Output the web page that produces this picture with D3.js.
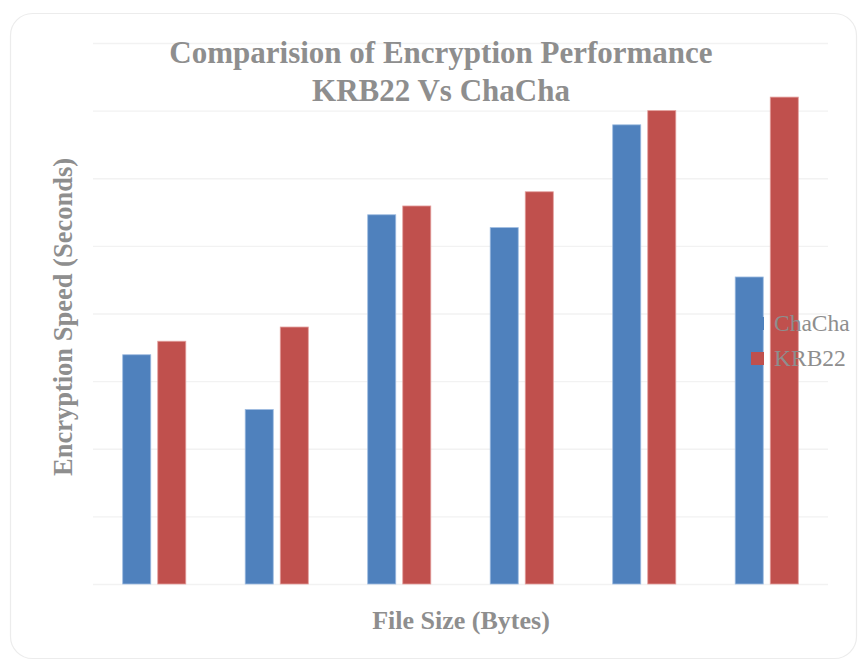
<!DOCTYPE html>
<html>
<head>
<meta charset="utf-8">
<script src="https://cdn.jsdelivr.net/npm/d3@7"></script>
<style>
    body { margin: 0; background: #ffffff; }
    text { font-family: "Liberation Serif", "Times New Roman", serif; }
</style>
</head>
<body>
<svg id="chart" width="860" height="661"></svg>
<script>
// Data (units of one gridline step)
var fileSizes = ["1", "2", "3", "4", "5", "6"];
var seriesNames = ["ChaCha", "KRB22"];
var chachaValues = [3.39, 2.58, 5.46, 5.27, 6.79, 4.54];
var krb22Values = [3.59, 3.80, 5.59, 5.80, 7.00, 7.20];
var gridTicks = [0, 1, 2, 3, 4, 5, 6, 7, 8];
var seriesColors = ["#4f81bd", "#c0504d"];

var svg = d3.select("#chart");

// card outline
svg.append("rect")
    .attr("x", 10.5).attr("y", 13.5)
    .attr("width", 846).attr("height", 645)
    .attr("rx", 22).attr("ry", 22)
    .attr("fill", "#ffffff")
    .attr("stroke", "#ececec")
    .attr("stroke-width", 1.2);

var margin = { left: 93, right: 32, top: 43, bottom: 77 };
var width = 860 - margin.left - margin.right;
var height = 661 - margin.top - margin.bottom;

var g = svg.append("g")
    .attr("transform", "translate(" + margin.left + "," + margin.top + ")");

var x0 = d3.scaleBand()
    .domain(fileSizes)
    .range([0, width])
    .paddingInner(0.485)
    .paddingOuter(0.2425);

var x1 = d3.scaleBand()
    .domain(seriesNames)
    .range([0, x0.bandwidth()])
    .paddingInner(0.2);

var y = d3.scaleLinear()
    .domain([0, 8])
    .range([height, 0]);

// gridlines
g.selectAll(".grid")
    .data(gridTicks)
    .enter().append("line")
    .attr("class", "grid")
    .attr("x1", 0).attr("x2", width)
    .attr("y1", function(d) { return y(d) + 0.5; })
    .attr("y2", function(d) { return y(d) + 0.5; })
    .attr("stroke", "#f2f2f2")
    .attr("stroke-width", 1.3);

var rows = fileSizes.map(function(f, i) {
    return { size: f, values: [
        { name: "ChaCha", value: chachaValues[i] },
        { name: "KRB22", value: krb22Values[i] }
    ]};
});

var color = d3.scaleOrdinal().domain(seriesNames).range(seriesColors);

var groups = g.selectAll(".group")
    .data(rows)
    .enter().append("g")
    .attr("class", "group")
    .attr("transform", function(d) { return "translate(" + x0(d.size) + ",0)"; });

groups.selectAll("rect")
    .data(function(d) { return d.values; })
    .enter().append("rect")
    .attr("x", function(d) { return x1(d.name); })
    .attr("y", function(d) { return y(d.value); })
    .attr("width", x1.bandwidth())
    .attr("height", function(d) { return height - y(d.value); })
    .attr("fill", function(d) { return color(d.name); })
    .attr("stroke", function(d) { return d.name == "ChaCha" ? "#9dbbe0" : "#e39e9c"; })
    .attr("stroke-width", 0.8);

// title
var title = svg.append("text")
    .attr("x", 441)
    .attr("text-anchor", "middle")
    .attr("font-size", 31)
    .attr("font-weight", "bold")
    .attr("fill", "#8e8e8e");
title.append("tspan").attr("x", 441).attr("y", 63).text("Comparision of Encryption Performance");
title.append("tspan").attr("x", 441).attr("y", 101).text("KRB22 Vs ChaCha");

// axis titles
svg.append("text")
    .attr("transform", "translate(72,317) rotate(-90)")
    .attr("text-anchor", "middle")
    .attr("font-size", 26.5)
    .attr("font-weight", "bold")
    .attr("fill", "#8e8e8e")
    .text("Encryption Speed (Seconds)");

svg.append("text")
    .attr("x", 461)
    .attr("y", 629)
    .attr("text-anchor", "middle")
    .attr("font-size", 26)
    .attr("font-weight", "bold")
    .attr("fill", "#8e8e8e")
    .text("File Size (Bytes)");

// legend
var legend = svg.selectAll(".legend")
    .data(seriesNames)
    .enter().append("g")
    .attr("class", "legend")
    .attr("transform", function(d, i) { return "translate(751," + (317 + i * 35) + ")"; });

legend.append("rect")
    .attr("width", 13).attr("height", 13)
    .attr("fill", function(d) { return color(d); });

legend.append("text")
    .attr("x", 23)
    .attr("y", 14)
    .attr("font-size", 23.5)
    .attr("fill", "#8e8e8e")
    .text(function(d) { return d; });
</script>
</body>
</html>
